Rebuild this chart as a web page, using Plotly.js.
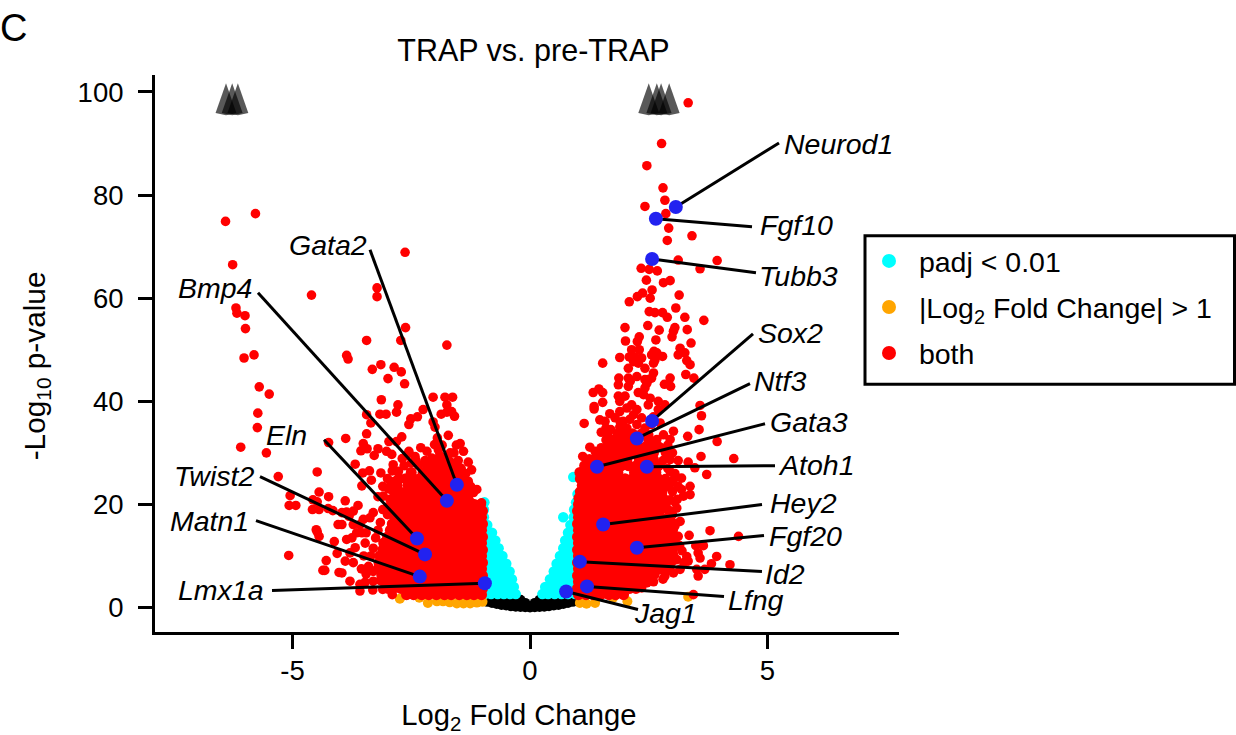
<!DOCTYPE html>
<html><head><meta charset="utf-8">
<script src="https://cdn.plot.ly/plotly-3.0.1.min.js"></script>
<style>html,body{margin:0;padding:0;background:#fff}#c{width:1236px;height:735px}</style>
</head><body><div id="c"></div><script>
// ---------- values (log2FC, -log10 p) ----------
const redLeftScatter = [[-6.41,74.9],[-5.78,76.4],[-6.26,66.5],[-4.6,60.6],[-6.19,58.1],[-6.17,57.1],[-6,56.6],[-5.99,54.1],[-6.02,48.4],[-5.81,49],[-5.7,42.8],[-5.49,41.4],[-5.73,37.7],[-5.74,34.9],[-4.24,32],[-6.09,31.1],[-5.55,30],[-4.48,26.3],[-5.3,25.4],[-4.44,22.4],[-5.05,21.7],[-4.24,21.5],[-5.07,19.8],[-4.93,19.8],[-4.57,20.9],[-4.48,20.5],[-4.58,19],[-4.44,19],[-4.25,19.2],[-4.15,18.8],[-4.5,15.1],[-4.48,14.7],[-4.44,13.8],[-4.12,12.8],[-4.04,16.1],[-4.06,10.5],[-5.08,10.1],[-4.29,9.1],[-4.36,7.2],[-4.32,7.2],[-4.02,6.8],
[-2.63,68.9],[-3.22,62],[-3.22,60.3],[-2.62,54.3],[-3.44,51.8],[-2.72,51.8],[-1.75,50.9],[-3.86,48.9],[-3.83,48.2],[-3.32,46.2],[-3.14,47.1],[-2.86,46.6],[-2.71,45.7],[-2.99,44.4],[-2.64,43.4],[-3.13,40.3],[-2.78,39.3],[-2.81,37.9],[-3.44,37.4],[-3.16,37.5],[-3.03,37.5],[-3.35,35.8],[-3.88,32.8],[-3.44,33.7],[-3.51,31.8],[-3.56,30.4],[-3.43,30.8],[-3.2,30.8],[-3.28,29.5],[-3.68,27.8],[-3.52,26.1],[-3.38,26.5],[-3.34,24.7],[-3.14,26.1],[-3.54,23.6],[-3.89,20.7],[-3.62,19.8],[-3.09,21.6],[-3.3,18.4],[-3.37,17.4],[-3.51,17.1],[-3.86,18.5],[-3.72,18.7],[-3.96,18.4],[-3.81,17.7],[-3.96,16.1],[-3.72,16.1],[-3.58,16.1],[-3.54,14.5],[-3.65,14.5],[-3.86,13.2],[-3.75,13.5],[-3.47,12.5],[-3.68,11.6],[-3.79,10.6],[-3.72,8.7],[-3.89,9],[-3.96,6.7],[-3.79,5.1],[-3.58,4.5],[-3.58,3.2],[-3.47,4.9],[-3.3,5.1],[-3.31,3.4],[-3.1,3.5],[-2.9,2.5],
[-2.04,40.8],[-1.79,40.8],[-1.63,40.8],[-1.75,39.3],[-2.25,38.4],[-1.87,37.5],[-1.75,37.9],[-1.65,38],[-1.59,37.1],[-2.37,37],[-2.51,36.6],[-2.55,35.5],[-2.04,36],[-2,35],[-1.72,33.4],[-1.95,32.9],[-2.01,31.6],[-1.93,30.6],[-2.7,33.1],[-2.81,32.2],[-2.97,32.2],[-1.47,31.8],[-1.4,30.3],[-2.55,30.3],[-2.42,29.3],[-2.17,30.3],[-1.68,30],[-3.02,30.3],[-2.91,29.7],[-2.69,28.9],[-2.21,28.5],[-2.07,29],[-1.51,28.5],[-1.3,28.2],[-1.23,26.7],[-2.88,27.7],[-2.77,26.4],[-1.12,22.9],[-1.19,22.3],[-1.02,20.3],[-1.23,20.3],[-1.02,18.2],
[-2.85,24.5],[-2.95,23.5],[-3,25],[-2.9,26.5],[-2.65,27.5],[-2.5,28],[-2.35,27.6],[-2.6,29.5],[-2.3,31],[-2.4,28.5],[-1.9,29.5],[-1.75,29],[-1.6,28],[-1.45,27],[-1.35,26],[-1.3,24.5],[-1.25,23.5],[-1.85,31.5],[-1.6,30],[-1.55,31.5],[-3,19.5],[-3,18],[-3.15,16.5],[-3.2,15],[-3.25,13.5],[-3.3,11.5],[-3.35,10],[-3.4,8],[-3.3,7],[-3.15,5.2],[-2.95,21],[-2.98,23],[-3.1,23.5],[-3.2,21.5],[-3.1,19],[-3.45,14.5],[-3.5,10],[-3.55,7.5],[-3.45,6.5]];

const redRightScatter = [[3.33,97.9],[2.77,90],[2.46,85.7],[2.8,81.4],[2.84,79],[2.42,77.8],[2.86,76.4],[2.92,73.6],[3.41,72.1],[2.89,71.2],[3.12,67.4],[3.94,67.3],[3.58,65.7],[2.34,65.8],[2.51,65.6],[2.68,65.3],[2.45,63.5],[2.81,63],[2.95,63.4],[2.57,61.6],[2.37,61],[2.26,60.3],[2.53,60],[3.14,60.6],[2.09,59.3],[3.07,58.1],[2.51,57.4],[2.63,57.2],[2.79,57.2],[2.89,56.3],[3.26,56.3],[3.66,55.7],[2,54.3],[2.48,54.7],[2.72,53.8],[3.05,54.3],[3.02,53.6],[2.99,52.5],[3.31,53.9],[2.01,51.7],[2.3,52.5],[2.26,51.6],[2.65,51.9],[3.39,51.3],[2.14,50],[2.3,50],[2.61,49.7],[3.16,50.3],
[3.26,49.4],[3.12,49],[3.3,47.9],[3.37,47.1],[1.53,47.4],[1.89,48.5],[2.09,48.6],[2.21,48.6],[2.35,48.4],[2.18,47.7],[2.28,47.4],[2.42,46.4],[2.07,46.4],[2.56,49],[2.67,49.4],[2.79,48.7],[2.6,47.4],[2.63,48],[2.6,45.5],[2.56,44.5],[1.87,44.5],[2.07,44.5],[2.25,44.8],[2.42,44.2],[2.95,44.5],[3.28,45.2],[3.45,44.5],[2.83,43.3],[2.96,42.9],[1.86,43.2],[2.07,42.9],[2.11,43.9],[2.46,43.5],[2.49,44.2],[2.42,42.6],[2.28,41.7],[1.45,42.4],[1.33,41.7],[1.53,41.7],[1.86,41],[2,41],[1.89,40],[1.53,39.8],[1.35,39],[1.35,38.5],[2.39,41.3],[2.53,40.6],[2.7,40],[2.84,39.3],[2.7,38.4],[2.49,39.3],[2.14,39.3],[2.04,38.7],[2.25,38.4],[1.68,37.6],[1.89,38],[3.58,39.2],[3.61,37.2],[3.56,34.5],[1.47,36.4],[1.58,36.1],[1.6,34.8],[1.63,33.5],[1.14,35.7],[1.79,36.8],[1.96,36.1],[1.89,35],[2.04,34.8],[2.18,37.4],[2.35,36.8],[2.42,34.8],[2.74,35.8],[3.02,34.2],[2.81,33.5],[2.67,32.6],[2.95,32.6],[3.32,33.2],[3.94,32.2],[1.86,33.2],[1.75,31.9],[1.68,30.9],[2,31.9],[1.26,31.1],[1.37,30.3],[1.11,29.3],[3.6,29.3],[4.29,28.9],[3.33,28.2],[3.47,27.1],[3.72,25.8],[3.12,28.5],[2.95,28.7],[2.95,26.4],[3.02,24.8],[3.19,25.1],[3.37,23.5],[3.37,21.9],[3.23,21.6],[3.12,23.5],[3.19,22.9],[2.95,20.9],[3.09,19.3],[3.16,16.7],[3.05,15.8],[3.12,13.8],[3.35,14],[3.79,14.9],[4.39,13.8],[3.49,12],[3.65,12],[3.3,9.9],[3.33,9],[3.54,10.6],[3.58,9.6],[3.93,9.9],[3.82,8.5],[4.21,8.3],[3.02,10.3],[3.09,9.3],[3.24,8.7],[3.51,7.4],[3.54,6.1],[3.68,7.4],[3.16,7.4],[2.84,6.1],[3.02,6.7],[3.44,2.5],[2.46,4.8],[2.35,3.8],[2.63,6.4],
[1.4,29.5],[1.5,31],[1.6,32.5],[1.5,34],[1.7,34.5],[2.1,33.5],[2.3,33],[2.5,33.5],[2.55,31.5],[2.75,31],[2.85,30],[2.9,31.5],[3,30],[2.8,28.5],[2.9,27],[3.05,26],[2.85,25],[2.9,23.5],[3,22.5],[2.95,24],[3.1,21],[3.05,20.5],[3,18],[3.15,12],[3.2,11],[3,9],[2.95,8],[2.9,7.3],[2.8,5.5],[2.6,5],[2.7,7.5],[1.9,36],[2.25,35.5],[2.1,36.5],[2.6,37],[2.55,35.5]];

// Overplotted red masses, one row per -log10 p level
const redLeftCore = [
[2.5,[-1.02,-1.18,-1.33,-1.49,-1.66,-1.8,-1.97,-2.13,-2.28,-2.45,-2.6]],
[3.7,[-1,-1.15,-1.31,-1.47,-1.62,-1.78,-1.94,-2.1,-2.25,-2.41,-2.57,-2.72,-2.88,-2.99]],
[5,[-1.02,-1.17,-1.33,-1.49,-1.65,-1.8,-1.96,-2.12,-2.28,-2.43,-2.59,-2.75,-2.9,-3.05]],
[6.2,[-1,-1.15,-1.31,-1.47,-1.62,-1.78,-1.94,-2.1,-2.25,-2.41,-2.57,-2.72,-2.88,-3.03,-3.12]],
[7.5,[-1.02,-1.17,-1.33,-1.49,-1.65,-1.8,-1.96,-2.12,-2.28,-2.43,-2.59,-2.75,-2.9,-3.06,-3.2]],
[8.7,[-1,-1.15,-1.31,-1.47,-1.62,-1.78,-1.94,-2.1,-2.25,-2.41,-2.57,-2.72,-2.88,-3.03,-3.18]],
[10,[-1.02,-1.17,-1.33,-1.49,-1.65,-1.8,-1.96,-2.12,-2.28,-2.43,-2.59,-2.75,-2.9,-3.06,-3.16]],
[11.2,[-1,-1.15,-1.31,-1.47,-1.62,-1.78,-1.94,-2.1,-2.25,-2.41,-2.57,-2.72,-2.88,-3.03,-3.1]],
[12.5,[-1.02,-1.17,-1.33,-1.49,-1.65,-1.8,-1.96,-2.12,-2.28,-2.43,-2.59,-2.75,-2.9,-3.08]],
[13.7,[-1,-1.15,-1.31,-1.47,-1.62,-1.78,-1.94,-2.1,-2.25,-2.41,-2.57,-2.72,-2.88,-3]],
[15,[-1.02,-1.17,-1.33,-1.49,-1.65,-1.8,-1.96,-2.12,-2.28,-2.43,-2.59,-2.75,-2.94]],
[16.2,[-1,-1.15,-1.31,-1.47,-1.62,-1.78,-1.94,-2.1,-2.25,-2.41,-2.57,-2.72,-2.9]],
[17.5,[-1.02,-1.17,-1.33,-1.49,-1.65,-1.8,-1.96,-2.12,-2.28,-2.43,-2.59,-2.75,-2.85]],
[18.7,[-1,-1.15,-1.31,-1.47,-1.62,-1.78,-1.94,-2.1,-2.25,-2.41,-2.57,-2.72,-2.86]],
[20,[-1.04,-1.17,-1.33,-1.49,-1.65,-1.8,-1.96,-2.12,-2.28,-2.43,-2.59,-2.75,-2.84]],
[21.2,[-1.31,-1.47,-1.62,-1.78,-1.94,-2.1,-2.25,-2.41,-2.57,-2.72,-2.8]],
[22.5,[-1.33,-1.49,-1.65,-1.8,-1.96,-2.12,-2.28,-2.43,-2.59,-2.75,-2.86]],
[23.7,[-1.36,-1.47,-1.62,-1.78,-1.94,-2.1,-2.25,-2.41,-2.57,-2.8]],
[25,[-1.4,-1.55,-1.7,-1.86,-2.02,-2.18,-2.33,-2.49,-2.62,-2.76]],
[26.2,[-1.47,-1.62,-1.78,-1.94,-2.1,-2.25,-2.5]],
[27.5,[-1.62,-1.76,-1.92,-2.06,-2.16]],
[28.6,[-1.73,-1.88,-2.02]]];

const redRightCore = [
[2.5,[1.02,1.18,1.33,1.49,1.66,1.8,1.97]],
[3.7,[1,1.15,1.31,1.47,1.62,1.78,1.94,2.1,2.23]],
[5,[1.02,1.17,1.33,1.49,1.65,1.8,1.96,2.12,2.28,2.45]],
[6.2,[1,1.15,1.31,1.47,1.62,1.78,1.94,2.1,2.25,2.41,2.58]],
[7.5,[1.02,1.17,1.33,1.49,1.65,1.8,1.96,2.12,2.28,2.43,2.59,2.74]],
[8.7,[1,1.15,1.31,1.47,1.62,1.78,1.94,2.1,2.25,2.41,2.57,2.72,2.8]],
[10,[1.02,1.17,1.33,1.49,1.65,1.8,1.96,2.12,2.28,2.43,2.59,2.75,2.86]],
[11.2,[1,1.15,1.31,1.47,1.62,1.78,1.94,2.1,2.25,2.41,2.57,2.72,2.88,3]],
[12.5,[1.02,1.17,1.33,1.49,1.65,1.8,1.96,2.12,2.28,2.43,2.59,2.75,2.9,3.05]],
[13.7,[1,1.15,1.31,1.47,1.62,1.78,1.94,2.1,2.25,2.41,2.57,2.72,2.88,2.95]],
[15,[1.02,1.17,1.33,1.49,1.65,1.8,1.96,2.12,2.28,2.43,2.59,2.75,2.9,3]],
[16.2,[1,1.15,1.31,1.47,1.62,1.78,1.94,2.1,2.25,2.41,2.57,2.72,2.88,3.04]],
[17.5,[1.02,1.17,1.33,1.49,1.65,1.8,1.96,2.12,2.28,2.43,2.59,2.75,2.94]],
[18.7,[1,1.15,1.31,1.47,1.62,1.78,1.94,2.1,2.25,2.41,2.57,2.72,2.93]],
[20,[1.02,1.17,1.33,1.49,1.65,1.8,1.96,2.12,2.28,2.43,2.59,2.75,2.85]],
[21.2,[1.03,1.15,1.31,1.47,1.62,1.78,1.94,2.1,2.25,2.41,2.57,2.72,2.8]],
[22.5,[1.06,1.17,1.33,1.49,1.65,1.8,1.96,2.12,2.28,2.43,2.59,2.78]],
[23.7,[1.1,1.24,1.4,1.55,1.7,1.86,2.02,2.18,2.33,2.49,2.62,2.75]],
[25,[1.06,1.2,1.36,1.52,1.68,1.84,2,2.16,2.3,2.46,2.6,2.7]],
[26.2,[1.05,1.22,1.38,1.54,1.7,1.85,2.2,2.36,2.52,2.65]],
[27.5,[1.15,1.28,1.44,1.6,1.76,1.92,2.08,2.24,2.55,2.7]],
[28.7,[1.25,1.4,1.56,1.72,1.88,2.04,2.3,2.45,2.6]],
[30,[1.45,1.6,1.76,1.92,2.08,2.24,2.4,2.6]],
[31.2,[1.65,1.8,1.96,2.12,2.28,2.44,2.7]],
[32.5,[1.75,1.9,2.06,2.22,2.5]],
[33.7,[1.85,2,2.16,2.35]]];

const cyanRows = [
[2.6,[-0.3,-0.42,-0.55,-0.68,-0.82,-0.95,0.26,0.38,0.52,0.66,0.8,0.95]],
[4,[-0.34,-0.48,-0.62,-0.77,-0.93,0.32,0.45,0.6,0.75,0.92]],
[5.5,[-0.38,-0.52,-0.66,-0.8,-0.94,0.42,0.56,0.7,0.85,0.96]],
[7,[-0.43,-0.57,-0.7,-0.84,-0.95,0.5,0.62,0.76,0.9]],
[8.5,[-0.5,-0.63,-0.77,-0.91,0.56,0.69,0.83,0.95]],
[10,[-0.58,-0.72,-0.86,-0.95,0.63,0.76,0.9]],
[11.5,[-0.66,-0.79,-0.92,0.7,0.82,0.95]],
[13,[-0.73,-0.86,-0.95,0.74,0.87,0.96]],
[14.5,[-0.8,-0.92,0.8,0.92]],
[16,[-0.9,-0.96,0.85,0.96]],
[17.5,[-0.97,0.7,0.92]],
[19,[-0.97,0.93]],
[20.4,[-0.96,0.97]],
[22,[1]],
[25.3,[0.91]]];

const orangeX = [-2.74,-2.33,-2.15,-1.96,-1.83,-1.69,-1.54,-1.4,-1.26,-1.12,-1,1.05,1.19,1.37,1.75,2.05,3.33];
const orangeY = [1.7,1.9,0.9,1.2,1.2,1,0.8,0.8,0.8,0.95,1.1,0.9,0.75,0.9,1.9,1.2,2.1];

const blackX = [-1,-0.9,-0.9,-0.8,-0.8,-0.7,-0.7,-0.6,-0.6,-0.6,-0.5,-0.5,-0.5,-0.4,-0.4,-0.4,-0.3,-0.3,-0.3,-0.2,-0.2,-0.2,-0.1,-0.1,-0.1,0,0,0.1,0.1,0.1,0.2,0.2,0.2,0.3,0.3,0.3,0.4,0.4,0.4,0.5,0.5,0.5,0.6,0.6,0.6,0.7,0.7,0.8,0.8,0.9,0.9,1];
const blackY = [1.3,1.1,1.7,0.9,1.5,0.7,1.4,0.5,1.2,1.9,0.4,1.1,1.9,0.25,1,1.8,0.15,0.8,1.6,0.1,0.7,1.5,0.05,0.4,0.9,0.02,0.1,0.05,0.4,0.9,0.1,0.7,1.5,0.15,0.8,1.6,0.25,1,1.8,0.4,1.1,1.9,0.5,1.2,1.9,0.7,1.4,0.9,1.5,1.1,1.7,1.3];

const geneNames = ["Neurod1","Fgf10","Tubb3","Sox2","Ntf3","Gata3","Atoh1","Hey2","Fgf20","Id2","Lfng","Jag1","Gata2","Bmp4","Eln","Twist2","Matn1","Lmx1a"];
const geneX = [3.07,2.65,2.57,2.57,2.25,1.41,2.46,1.54,2.25,1.05,1.2,0.76,-1.54,-1.75,-2.38,-2.21,-2.32,-0.95];
const geneY = [77.7,75.4,67.6,36.2,32.8,27.3,27.3,16.1,11.6,8.9,4.1,3.1,23.8,20.7,13.4,10.3,6,4.7];

// off-scale genes, capped at the top of the plot
const cappedLeftX = [-6.4,-6.27,-6.15];
const cappedRightX = [2.5,2.67,2.76,2.93];

// ---------- layout helpers (pixel placement of decorations only) ----------
const PL=155, PR=899, PT=75, PB=632.5;
const X = p => (p-530)/47.5, Y = p => (608-p)/5.16;
const labelPos = [[783,144],[759,225],[758,276],[757,333],[753,381],[769,422],[777,465],[769,503],[768,536],[764,574],[727,600],[633,613],[288,245],[177,288],[265,435],[173,476],[169,521],[177,590]];
const lineStart = [[779,143],[752,227],[756,273],[753,334],[750,384],[765,424],[775,466],[762,505],[764,536],[762,572],[724,597],[638,610],[370,250],[258,293],[324,440],[260,477],[256,521],[272,591]];

const expand = rows => { const x=[],y=[]; rows.forEach(([v,xs])=>xs.forEach(u=>{x.push(u);y.push(v);})); return {x,y}; };
const FONT = "Liberation Sans, Arial, sans-serif";
const RED='#ff0000', CYAN='#00ffff', ORANGE='#ffa500', BLUE='#2222f0';
const pt = (x,y,color,size) => ({type:'scatter',mode:'markers',x,y,showlegend:false,hoverinfo:'skip',cliponaxis:false,marker:{color,size,line:{width:0}}});

const cy = expand(cyanRows), rl = expand(redLeftCore), rr = expand(redRightCore);
const traces = [
  pt(blackX,blackY,'#000000',10),
  pt(cy.x,cy.y,CYAN,10.5),
  pt(orangeX,orangeY,ORANGE,10),
  pt(rl.x,rl.y,RED,11),
  pt(rr.x,rr.y,RED,11),
  pt(redLeftScatter.map(d=>d[0]),redLeftScatter.map(d=>d[1]),RED,9.6),
  pt(redRightScatter.map(d=>d[0]),redRightScatter.map(d=>d[1]),RED,9.6)
];
// leader lines
const lx=[],ly=[];
geneNames.forEach((g,i)=>{lx.push(X(lineStart[i][0]),geneX[i],null);ly.push(Y(lineStart[i][1]),geneY[i],null);});
traces.push({type:'scatter',mode:'lines',x:lx,y:ly,showlegend:false,hoverinfo:'skip',line:{color:'#000',width:3}});
traces.push(pt(geneX,geneY,BLUE,14));
// capped-value cones
[...cappedLeftX,...cappedRightX].forEach(c=>{
  traces.push({type:'scatter',mode:'lines',fill:'toself',fillcolor:'rgba(0,0,0,0.65)',line:{width:0},hoverinfo:'skip',showlegend:false,
    x:[c-0.22,c,c+0.22,c],y:[95.9,101.7,95.9,95.5]});
});
// legend entries
const NB='\u00A0', ZW='\u200B';
[[NB+"padj &lt; 0.01",CYAN],[NB+"|Log<sub>2</sub> Fold Change| &gt; 1"+NB+NB,ORANGE],[NB+"both",RED]].forEach(([n,c],i)=>{
  traces.push({type:'scatter',mode:'markers',x:[null],y:[null],name:n,legendgroup:'g'+i,marker:{color:c,size:14}});
});

const annotations = geneNames.map((g,i)=>({x:X(labelPos[i][0]),y:Y(labelPos[i][1]),xref:'x',yref:'y',xanchor:'left',yanchor:'middle',align:'left',showarrow:false,text:'<i>'+g+'</i>',font:{family:FONT,size:28.5,color:'#000'},borderpad:0}));
annotations.push({x:(-2-PL)/(PR-PL),y:(PB-28)/(PB-PT),xref:'paper',yref:'paper',xanchor:'left',yanchor:'middle',showarrow:false,text:'C',font:{family:FONT,size:38,color:'#000'}});

const axis = {showgrid:false,zeroline:false,showline:true,linecolor:'#000',linewidth:3,ticks:'outside',ticklen:14,tickwidth:3,tickcolor:'#000',tickfont:{family:FONT,size:27.5,color:'#000'},mirror:false};
Plotly.newPlot('c',traces,{
  width:1236,height:735,paper_bgcolor:'#fff',plot_bgcolor:'#fff',
  margin:{l:PL,r:1236-PR,t:PT,b:735-PB,autoexpand:false,pad:0},
  font:{family:FONT,color:'#000'},
  title:{text:'TRAP vs. pre-TRAP',font:{family:FONT,size:30.5,color:'#000'},x:533.5/1236,xanchor:'center',y:1-50/735,yanchor:'middle'},
  xaxis:{...axis,range:[X(PL),X(PR)],tickmode:'array',tickvals:[-5,0,5],ticktext:['-5','0','5'],ticklabelstandoff:-2,
    title:{text:'Log<sub>2</sub> Fold Change'+NB+NB+ZW,font:{family:FONT,size:29.2,color:'#000'},standoff:21}},
  yaxis:{...axis,range:[Y(PB),Y(PT)],tickmode:'array',tickvals:[0,20,40,60,80,100],ticktext:['0','20','40','60','80','100'],ticklabelstandoff:9,
    title:{text:'-Log<sub>10</sub> p-value'+NB+NB+NB+ZW,font:{family:FONT,size:29.8,color:'#000'},standoff:24}},
  legend:{x:(864-PL)/(PR-PL),y:(PB-233)/(PB-PT),xanchor:'left',yanchor:'top',bgcolor:'rgba(0,0,0,0)',bordercolor:'rgba(0,0,0,0)',borderwidth:3,font:{family:FONT,size:28.5,color:'#000'},tracegroupgap:6,itemsizing:'trace',itemwidth:34},
  shapes:[{type:'rect',xref:'paper',yref:'paper',x0:(865-PL)/(PR-PL),x1:(1234.5-PL)/(PR-PL),y0:(PB-384.5)/(PB-PT),y1:(PB-236)/(PB-PT),line:{color:'#000',width:3},fillcolor:'#fff',layer:'below'}],
  annotations,
  showlegend:true
},{displayModeBar:false,staticPlot:true});
</script></body></html>
